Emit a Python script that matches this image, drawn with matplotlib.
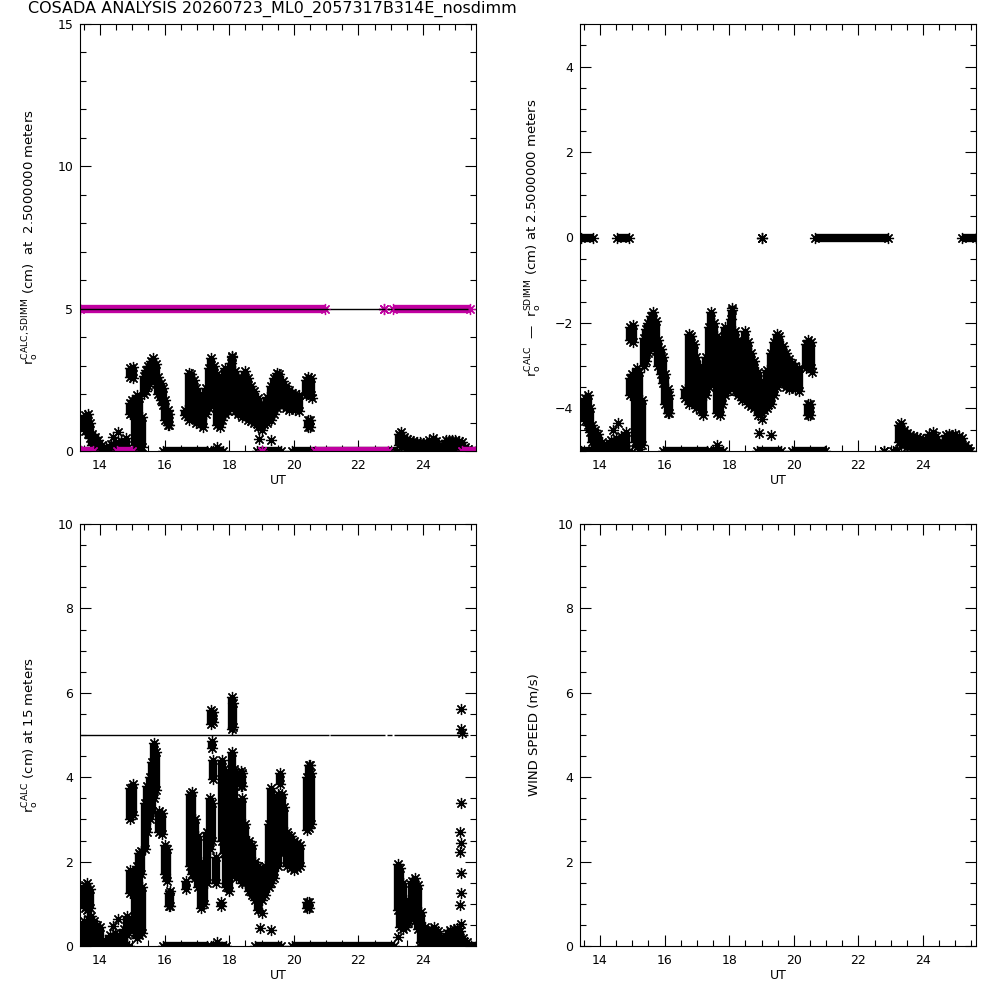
import numpy as np
import matplotlib.pyplot as plt
from matplotlib.ticker import MultipleLocator

# ---- r0 CALC at 2.5 m : each streak = many samples at one UT, (lowest, highest) in cm
calc_ut = [13.55, 13.62, 13.68, 13.75, 13.85, 13.95, 14.05, 14.20, 14.35, 14.50, 14.65, 14.80,
           14.93, 15.02, 14.92, 15.00, 15.08, 15.15, 15.22, 15.30,
           15.35, 15.42, 15.50, 15.58, 15.65, 15.72, 15.80, 15.88, 15.95, 16.02, 16.10, 16.15,
           16.62, 16.75, 16.82, 16.90, 16.98, 17.08, 17.18, 17.28, 17.38, 17.45, 17.52,
           17.62, 17.70, 17.78, 17.87, 17.95, 18.05, 18.10, 18.18, 18.28, 18.38, 18.48,
           18.58, 18.68, 18.78, 18.88, 18.98, 19.08, 19.18, 19.28, 19.38, 19.47, 19.55,
           19.65, 19.75, 19.85, 19.95, 20.05, 20.15, 20.38, 20.45, 20.52, 20.43, 20.50,
           23.25, 23.32, 23.40, 23.50, 23.60, 23.70, 23.80, 23.90, 24.00, 24.10, 24.20,
           24.30, 24.40, 24.50, 24.60, 24.70, 24.80, 24.90, 25.00, 25.10, 25.20, 25.30, 25.40]
calc_lo = [0.70, 0.60, 0.45, 0.20, 0.10, 0.05, 0.00, 0.00, 0.00, 0.05, 0.00, 0.05,
           2.60, 2.55, 1.30, 1.35, 0.20, 0.10, 0.05, 0.15,
           2.00, 2.10, 2.30, 2.50, 2.55, 2.35, 2.00, 1.80, 1.60, 1.10, 0.90, 0.90,
           1.25, 1.10, 1.30, 1.20, 1.00, 0.95, 0.85, 1.30, 1.50, 1.70, 1.80,
           0.90, 0.85, 1.10, 1.30, 1.40, 1.60, 1.70, 1.40, 1.30, 1.20, 1.25,
           1.10, 1.05, 1.00, 0.85, 0.90, 0.95, 1.00, 1.10, 1.30, 1.50, 1.70,
           1.60, 1.50, 1.45, 1.50, 1.45, 1.40, 1.95, 2.00, 1.95, 0.85, 0.85,
           0.20, 0.15, 0.15, 0.10, 0.10, 0.08, 0.05, 0.05, 0.02, 0.00, 0.05,
           0.05, 0.00, 0.00, 0.00, 0.02, 0.05, 0.05, 0.05, 0.02, 0.00, 0.00, 0.00]
calc_hi = [1.25, 1.30, 1.00, 0.60, 0.50, 0.40, 0.20, 0.15, 0.25, 0.30, 0.35, 0.45,
           2.90, 2.95, 1.70, 1.80, 1.75, 1.95, 1.85, 1.20,
           2.65, 2.85, 3.00, 3.15, 3.25, 3.05, 2.60, 2.40, 2.20, 1.80, 1.45, 1.30,
           1.45, 2.75, 2.70, 2.50, 2.20, 2.00, 1.70, 2.20, 2.90, 3.25, 3.00,
           2.70, 2.40, 2.60, 2.90, 2.85, 3.10, 3.30, 2.80, 2.60, 2.50, 2.80,
           2.55, 2.30, 2.10, 1.85, 1.65, 1.55, 1.90, 2.30, 2.55, 2.75, 2.70,
           2.45, 2.30, 2.15, 2.05, 2.00, 1.95, 2.50, 2.60, 2.55, 1.10, 1.10,
           0.60, 0.65, 0.50, 0.42, 0.38, 0.35, 0.32, 0.30, 0.28, 0.25, 0.40,
           0.45, 0.35, 0.22, 0.20, 0.38, 0.40, 0.38, 0.40, 0.35, 0.30, 0.15, 0.08]
calc_pt_ut = [14.41, 14.57, 19.00, 18.93, 19.28, 20.55, 17.61, 18.10]
calc_pt_v = [0.49, 0.66, 0.74, 0.41, 0.38, 1.85, 0.14, 3.35]
# UT intervals where CALC r0 reads 0
calc_zero_start = [13.40, 15.95, 17.45, 18.85, 19.95, 23.80]
calc_zero_end = [14.90, 17.30, 17.80, 19.60, 23.20, 25.64]

# ---- r0 SDIMM (magenta)
sdimm_start = [13.38, 22.79, 23.07, 13.42, 14.53, 19.02, 20.66, 25.20]
sdimm_end = [20.96, 22.79, 25.45, 13.78, 15.00, 19.02, 22.92, 25.64]
sdimm_val = [5, 5, 5, 0, 0, 0, 0, 0]
sdimm_level = 5.0

# ---- r0 CALC at 15 m
c15_ut = [13.52, 13.60, 13.68, 13.50, 13.62, 13.72, 13.80, 13.90, 14.00, 14.15, 14.30, 14.45, 14.60, 14.75, 14.85,
          14.93, 15.02, 14.93, 15.02, 15.08, 15.15, 15.22, 15.30, 15.28,
          15.38, 15.46, 15.54, 15.60, 15.67, 15.74, 15.82, 15.92, 16.00, 16.06, 16.12, 16.17,
          16.65, 16.78, 16.86, 16.95, 17.03, 17.12, 17.22, 17.30, 17.40, 17.47,
          17.45, 17.50, 17.47, 17.50, 17.60, 17.75, 17.78, 17.85, 17.90, 17.98,
          18.08, 18.12, 18.08, 18.15, 18.22, 18.35, 18.40, 18.40, 18.50, 18.60, 18.70, 18.80, 18.90,
          19.00, 19.10, 19.22, 19.30, 19.40, 19.50, 19.58, 19.62, 19.70, 19.80, 19.90, 20.00, 20.10, 20.18,
          20.40, 20.47, 20.54, 20.42, 20.48,
          23.22, 23.30, 23.38, 23.46, 23.55, 23.65, 23.75, 23.85, 23.95, 24.05, 24.15, 24.25,
          24.35, 24.45, 24.55, 24.65, 24.75, 24.85, 24.95, 25.05, 25.15, 25.25, 25.35]
c15_lo = [0.90, 0.85, 0.90, 0.10, 0.10, 0.15, 0.20, 0.10, 0.05, 0.00, 0.00, 0.05, 0.00, 0.00, 0.25,
          3.00, 3.10, 1.25, 1.30, 0.30, 0.20, 0.25, 0.30, 1.70,
          2.30, 2.70, 3.00, 3.20, 3.50, 3.70, 2.70, 2.65, 1.70, 1.55, 0.95, 0.95,
          1.35, 1.90, 1.70, 1.60, 1.40, 0.90, 1.00, 1.50, 2.30, 2.50,
          5.25, 5.30, 4.70, 3.95, 1.50, 0.95, 2.50, 2.20, 1.40, 1.30,
          5.15, 5.20, 3.60, 3.00, 1.60, 3.80, 3.80, 1.50, 1.50, 1.30, 1.20, 1.10, 0.85,
          1.10, 1.20, 1.40, 1.50, 1.60, 1.90, 3.85, 2.30, 2.20, 1.90, 1.85, 1.80, 1.85, 1.90,
          2.75, 2.80, 2.90, 0.90, 0.90,
          0.85, 0.45, 0.40, 0.45, 0.55, 0.70, 0.60, 0.40, 0.10, 0.00, 0.00, 0.05,
          0.05, 0.00, 0.00, 0.00, 0.02, 0.05, 0.05, 0.05, 0.05, 0.00, 0.00]
c15_hi = [1.45, 1.50, 1.35, 0.60, 0.65, 0.70, 0.60, 0.50, 0.45, 0.15, 0.25, 0.30, 0.25, 0.40, 0.70,
          3.75, 3.85, 1.80, 1.75, 1.30, 1.90, 2.20, 1.40, 2.25,
          3.40, 3.80, 4.00, 4.35, 4.80, 4.60, 3.20, 3.15, 2.40, 2.30, 1.25, 1.30,
          1.55, 3.60, 3.65, 3.00, 2.60, 2.00, 1.60, 2.70, 3.50, 3.40,
          5.60, 5.55, 4.85, 4.40, 2.10, 1.05, 4.40, 4.20, 3.60, 3.20,
          5.90, 5.75, 4.60, 4.20, 3.40, 4.15, 4.10, 3.50, 2.90, 2.50, 2.40, 2.00, 1.90,
          1.80, 1.90, 2.90, 3.75, 3.50, 3.60, 4.10, 3.60, 3.30, 2.70, 2.60, 2.50, 2.45, 2.40,
          4.00, 4.30, 4.10, 1.05, 1.05,
          1.95, 1.85, 1.50, 1.10, 1.00, 1.55, 1.60, 1.45, 0.80, 0.45, 0.30, 0.40,
          0.45, 0.35, 0.22, 0.20, 0.30, 0.38, 0.40, 0.42, 0.35, 0.20, 0.10]
c15_pt_ut = [14.41, 14.57, 19.00, 18.95, 19.29, 17.61, 20.50, 23.23,
             25.18, 25.17, 25.20, 25.18, 25.16, 25.19, 25.16, 25.18, 25.19, 25.16, 25.18]
c15_pt_v = [0.48, 0.65, 0.78, 0.42, 0.37, 0.10, 4.28, 0.22,
            5.61, 5.15, 5.05, 3.40, 2.70, 2.44, 2.22, 1.74, 1.25, 0.97, 0.52]
c15_zero_start = [13.40, 15.95, 17.45, 18.80, 19.95, 23.90]
c15_zero_end = [14.90, 17.30, 17.90, 19.60, 23.10, 25.64]

# 5 cm reference line (with its gaps)
ref_start = [13.38, 21.13, 22.87, 23.09]
ref_end = [21.08, 22.82, 23.03, 25.40]
ref_val = [5.0, 5.0, 5.0, 5.0]

ut_range = (13.38, 25.64)
title = "COSADA ANALYSIS 20260723_ML0_2057317B314E_nosdimm"
MAGENTA = '#c000a0'
AST = (8, 2, 0)  # IDL psym=2 asterisk

plt.rcParams['font.family'] = 'DejaVu Sans'
plt.rcParams['mathtext.fontset'] = 'dejavusans'


def streaks(ax, ut, lo, hi, color='k'):
    ax.vlines(ut, lo, hi, colors=color, lw=6, capstyle='butt')
    ax.plot(ut, lo, ls='none', marker=AST, ms=8, mew=0.9, color=color)
    ax.plot(ut, hi, ls='none', marker=AST, ms=8, mew=0.9, color=color)


def points(ax, ut, v, color='k'):
    ax.plot(ut, v, ls='none', marker=AST, ms=8, mew=0.9, color=color)


def bands(ax, start, end, val, color='k'):
    for s, e, v in zip(start, end, val):
        if e > s:
            ax.hlines(v, s, e, colors=color, lw=6, capstyle='butt')
        ax.plot([s, e], [v, v], ls='none', marker=AST, ms=8, mew=0.9, color=color)


def style(ax, ymin, ymax, ymaj, ymin_step):
    ax.set_xlim(*ut_range)
    ax.set_ylim(ymin, ymax)
    ax.xaxis.set_major_locator(MultipleLocator(2))
    ax.xaxis.set_minor_locator(MultipleLocator(0.5))
    ax.yaxis.set_major_locator(MultipleLocator(ymaj))
    ax.yaxis.set_minor_locator(MultipleLocator(ymin_step))
    ax.tick_params(which='both', direction='in', top=True, right=True, width=0.8, labelsize=9)
    ax.tick_params(which='major', length=8)
    ax.tick_params(which='minor', length=4)
    ax.tick_params(axis='x', pad=6)
    ax.tick_params(axis='y', pad=5)
    for sp in ax.spines.values():
        sp.set_linewidth(0.8)
    ax.set_xlabel('UT', fontsize=9, labelpad=1)


fig = plt.figure(figsize=(10, 10), dpi=100)
ax1 = fig.add_axes([0.080, 0.549, 0.396, 0.427])
ax2 = fig.add_axes([0.580, 0.549, 0.396, 0.427])
ax3 = fig.add_axes([0.080, 0.054, 0.396, 0.422])
ax4 = fig.add_axes([0.580, 0.054, 0.396, 0.422])

# r0 calc and sdimm
streaks(ax1, calc_ut, calc_lo, calc_hi)
points(ax1, calc_pt_ut, calc_pt_v)
bands(ax1, calc_zero_start, calc_zero_end, [0] * len(calc_zero_start))
bands(ax1, sdimm_start, sdimm_end, sdimm_val, MAGENTA)
ax1.hlines(ref_val, ref_start, ref_end, colors='k', lw=1)
style(ax1, 0, 15, 5, 1)
ax1.set_ylabel(r'$\mathregular{r_o^{CALC,SDIMM}}$ (cm)  at  2.5000000 meters', fontsize=9.5, labelpad=12)

# difference calc - sdimm
streaks(ax2, calc_ut, np.array(calc_lo) - sdimm_level, np.array(calc_hi) - sdimm_level)
points(ax2, calc_pt_ut, np.array(calc_pt_v) - sdimm_level)
for zs, ze in zip(calc_zero_start, calc_zero_end):
    for ss, se, sv in zip(sdimm_start, sdimm_end, sdimm_val):
        lo_t, hi_t = max(zs, ss), min(ze, se)
        if hi_t >= lo_t:
            bands(ax2, [lo_t], [hi_t], [0 - sv])
style(ax2, -5, 5, 2, 0.5)
ax2.set_ylabel(r'$\mathregular{r_o^{CALC}}$  —  $\mathregular{r_o^{SDIMM}}$ (cm) at 2.5000000 meters',
               fontsize=9.5, labelpad=8)

# r0 at 15 m
streaks(ax3, c15_ut, c15_lo, c15_hi)
points(ax3, c15_pt_ut, c15_pt_v)
bands(ax3, c15_zero_start, c15_zero_end, [0] * len(c15_zero_start))
ax3.hlines(ref_val, ref_start, ref_end, colors='k', lw=1)
style(ax3, 0, 10, 2, 0.5)
ax3.set_ylabel(r'$\mathregular{r_o^{CALC}}$ (cm) at 15 meters', fontsize=9.5, labelpad=12)

# wind speed (no data)
style(ax4, 0, 10, 2, 0.5)
ax4.set_ylabel('WIND SPEED (m/s)', fontsize=9.5, labelpad=12)

fig.text(0.028, 0.991, title, fontsize=11.5, va='center', ha='left')

fig.savefig('out.png', dpi=100)
